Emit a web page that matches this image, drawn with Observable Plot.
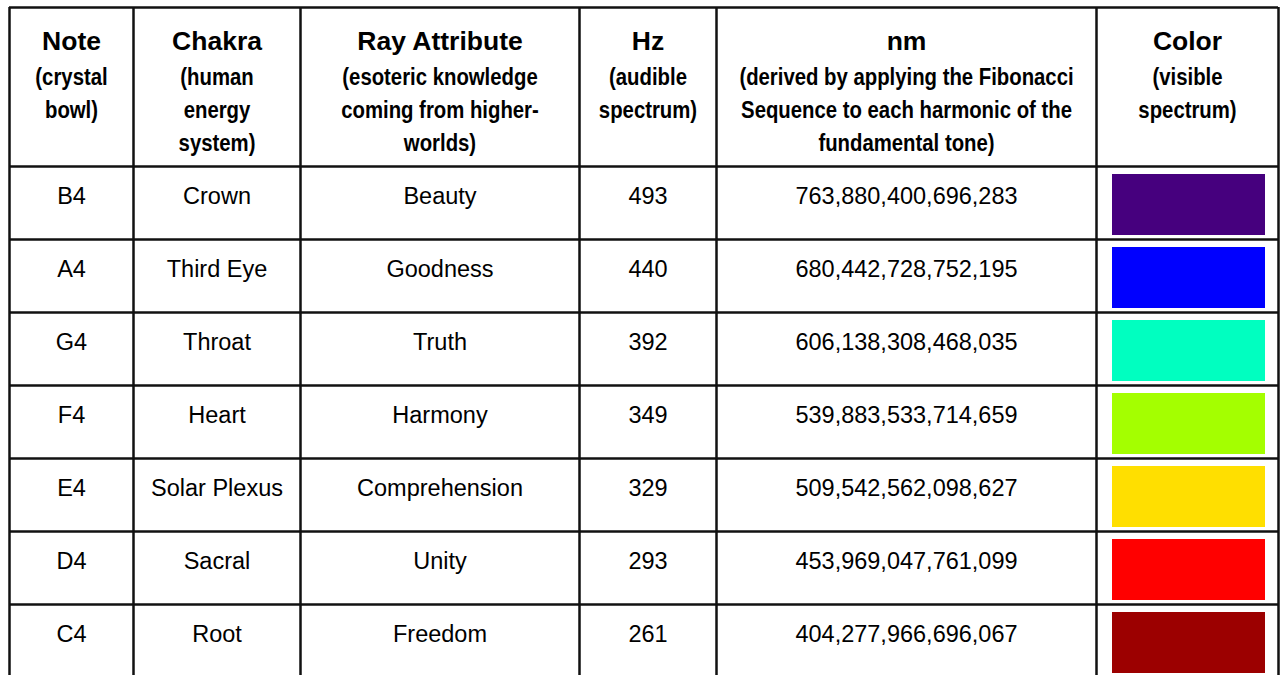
<!DOCTYPE html>
<html><head><meta charset="utf-8">
<script src="https://cdn.jsdelivr.net/npm/d3@7"></script>
<script src="https://cdn.jsdelivr.net/npm/@observablehq/plot@0.6"></script>
<style>html,body{margin:0;padding:0;background:#fff;overflow:hidden}</style>
</head><body><div id="chart"></div>
<script>
// ---- data ----
const headers = ["Note", "Chakra", "Ray Attribute", "Hz", "nm", "Color"];
const headerNotes = [
  ["(crystal", "bowl)"],
  ["(human", "energy", "system)"],
  ["(esoteric knowledge", "coming from higher-", "worlds)"],
  ["(audible", "spectrum)"],
  ["(derived by applying the Fibonacci", "Sequence to each harmonic of the", "fundamental tone)"],
  ["(visible", "spectrum)"]
];
const notes = ["B4", "A4", "G4", "F4", "E4", "D4", "C4"];
const chakras = ["Crown", "Third Eye", "Throat", "Heart", "Solar Plexus", "Sacral", "Root"];
const rays = ["Beauty", "Goodness", "Truth", "Harmony", "Comprehension", "Unity", "Freedom"];
const hz = [493, 440, 392, 349, 329, 293, 261];
const nm = [763880400696283, 680442728752195, 606138308468035, 539883533714659, 509542562098627, 453969047761099, 404277966696067];
const colors = ["#46007e", "#0000ff", "#00ffc0", "#a4ff00", "#ffdf00", "#ff0000", "#9c0000"];

// ---- layout ----
const W = 1280, H = 675;
const colEdges = [9, 133, 300, 579, 716, 1096, 1278];
const tableTop = 7, headerBottom = 166, rowH = 73;
const centers = colEdges.slice(0, -1).map((e, i) => (e + colEdges[i + 1]) / 2);
const rowTop = i => headerBottom + i * rowH;
const fmt = d3.format(",d");

const rows = notes.map((n, i) => ({i, note: n, chakra: chakras[i], ray: rays[i], hz: hz[i], nm: nm[i], color: colors[i]}));
const cells = rows.flatMap(r => [r.note, r.chakra, r.ray, String(r.hz), fmt(r.nm)].map((t, j) => ({i: r.i, j, t})));
const subLines = headerNotes.flatMap((lines, j) => lines.map((t, k) => ({j, k, t})));
const hLines = [tableTop, headerBottom, ...notes.map((_, i) => rowTop(i + 1))];

const sans = "'Liberation Sans', Arial, sans-serif";

const chart = Plot.plot({
  width: W, height: H,
  margin: 0,
  x: {type: "identity", axis: null},
  y: {type: "identity", axis: null},
  style: {background: "#fff", color: "#000"},
  marks: [
    Plot.rect(rows, {
      x1: colEdges[5] + 16, x2: colEdges[6] - 13,
      y1: d => rowTop(d.i) + 8, y2: d => rowTop(d.i) + 69,
      fill: d => d.color
    }),
    Plot.ruleY(hLines, {y: d => d, x1: colEdges[0], x2: colEdges[6], stroke: "#111", strokeWidth: 2.5}),
    Plot.ruleX(colEdges, {x: d => d, y1: tableTop, y2: H + 5, stroke: "#111", strokeWidth: 2.5}),
    Plot.text(headers, {
      x: (d, j) => centers[j], y: 41.5, text: d => d,
      fontFamily: sans, fontWeight: "bold", fontSize: 26.5, fill: "#000"
    }),
    Plot.text(subLines, {
      x: d => centers[d.j], y: d => 76.5 + d.k * 33, text: "t",
      fontFamily: sans, fontWeight: "bold", fontSize: 24.5, fill: "#000",
      ariaLabel: () => "subtitle"
    }),
    Plot.text(cells, {
      x: d => centers[d.j], y: d => rowTop(d.i) + 29.5, text: "t",
      fontFamily: sans, fontSize: 23.5, fill: "#000"
    })
  ]
});
// condense the header sub-lines horizontally (narrow typeface look)
const textGroups = chart.querySelectorAll('g[aria-label="text"]');
const subGroup = textGroups[1];
if (subGroup) {
  subGroup.querySelectorAll("text").forEach(el => {
    const t = el.getAttribute("transform") || "";
    el.setAttribute("transform", t + " scale(0.83,1)");
  });
}
document.getElementById("chart").append(chart);
</script>
</body></html>
